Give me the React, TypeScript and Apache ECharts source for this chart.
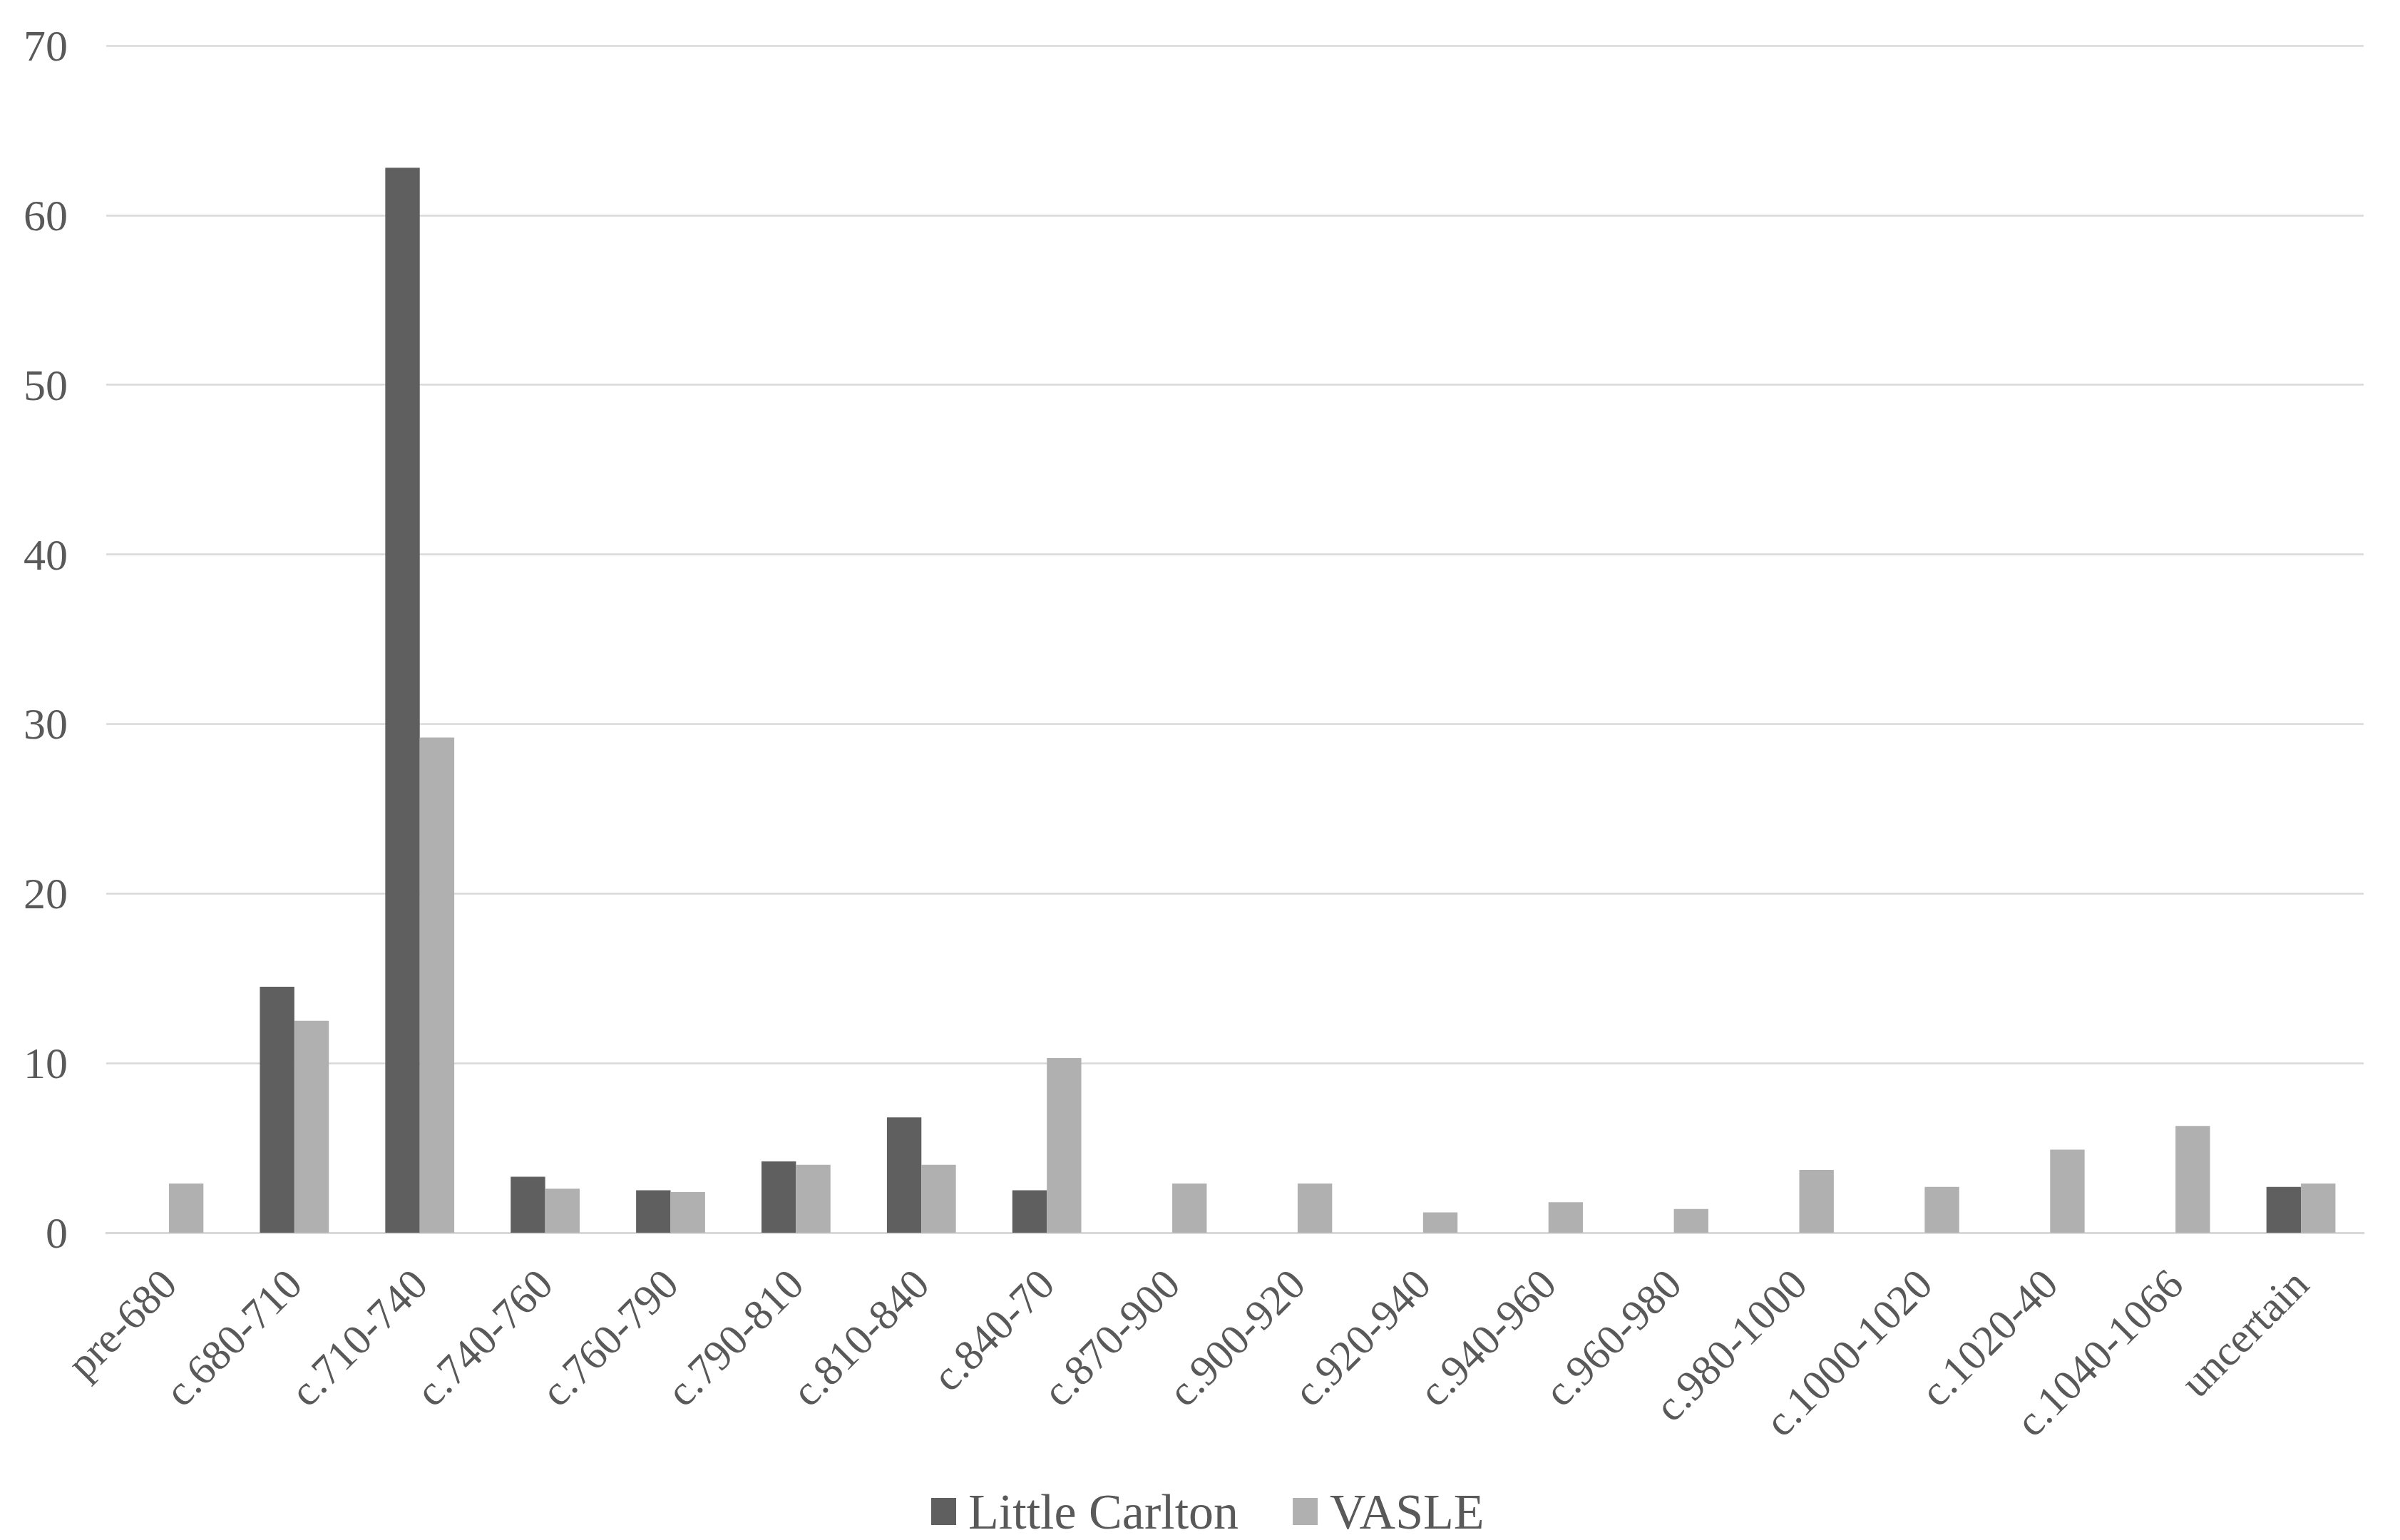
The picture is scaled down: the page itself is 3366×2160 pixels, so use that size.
import React, { useEffect, useRef } from "react";
import * as echarts from "echarts";

const categories = [
  "pre-680", "c.680-710", "c.710-740", "c.740-760", "c.760-790", "c.790-810",
  "c.810-840", "c.840-70", "c.870-900", "c.900-920", "c.920-940", "c.940-960",
  "c.960-980", "c.980-1000", "c.1000-1020", "c.1020-40", "c.1040-1066", "uncertain",
];
const littleCarlton = [0, 14.5, 62.8, 3.3, 2.5, 4.2, 6.8, 2.5, 0, 0, 0, 0, 0, 0, 0, 0, 0, 2.7];
const vasle = [2.9, 12.5, 29.2, 2.6, 2.4, 4.0, 4.0, 10.3, 2.9, 2.9, 1.2, 1.8, 1.4, 3.7, 2.7, 4.9, 6.3, 2.9];
const yTicks = { min: 0, max: 70, interval: 10 };

const FONT = "'Liberation Serif', 'Times New Roman', serif";
const TEXT = "#595959";

export default function App() {
  const ref = useRef<HTMLDivElement>(null);
  useEffect(() => {
    if (!ref.current) return;
    const chart = echarts.init(ref.current, null, { renderer: "svg" });
    chart.setOption({
      animation: false,
      backgroundColor: "#ffffff",
      textStyle: { fontFamily: FONT },
      grid: { left: 149, right: 51, top: 64, bottom: 431, containLabel: false },
      legend: {
        data: ["Little Carlton", "VASLE"],
        left: 1301,
        top: 2080,
        icon: "rect",
        itemWidth: 35,
        itemHeight: 38,
        itemGap: 76,
        textStyle: {
          fontFamily: FONT,
          fontSize: 70,
          lineHeight: 60,
          color: TEXT,
          padding: [0, 0, 0, 12],
        },
      },
      xAxis: {
        type: "category",
        data: categories,
        axisLine: { show: true, lineStyle: { color: "#d9d9d9", width: 3 } },
        axisTick: { show: false },
        axisLabel: {
          interval: 0,
          rotate: 45,
          margin: 62,
          fontFamily: FONT,
          fontSize: 60,
          color: TEXT,
        },
      },
      yAxis: {
        type: "value",
        min: yTicks.min,
        max: yTicks.max,
        interval: yTicks.interval,
        axisLine: { show: false },
        axisTick: { show: false },
        splitLine: { lineStyle: { color: "#d9d9d9", width: 2.5 } },
        axisLabel: { margin: 54, fontFamily: FONT, fontSize: 62, color: TEXT },
      },
      series: [
        {
          name: "Little Carlton",
          type: "bar",
          data: littleCarlton,
          barGap: "0%",
          barCategoryGap: "45%",
          itemStyle: { color: "#5f5f5f" },
        },
        {
          name: "VASLE",
          type: "bar",
          data: vasle,
          barGap: "0%",
          barCategoryGap: "45%",
          itemStyle: { color: "#b0b0b0" },
        },
      ],
    });
    return () => chart.dispose();
  }, []);
  return (
    <div
      ref={ref}
      style={{ position: "absolute", left: 0, top: 0, width: 3366, height: 2160, background: "#fff" }}
    />
  );
}
